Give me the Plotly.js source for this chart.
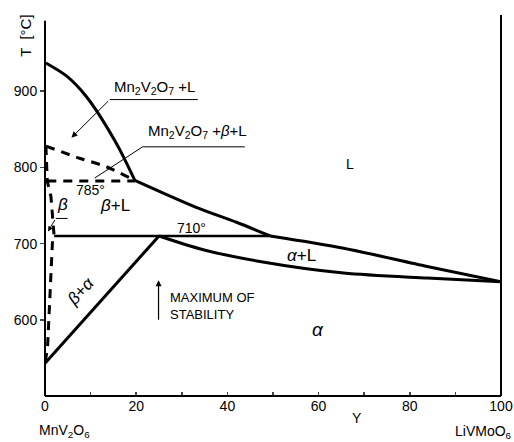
<!DOCTYPE html>
<html><head><meta charset="utf-8">
<script src="https://cdn.plot.ly/plotly-3.0.1.min.js"></script>
<style>body{margin:0;background:#fff}#chart{width:514px;height:442px}</style>
</head><body><div id="chart"></div>
<script>
// Liquidus of Mn2V2O7
const liqMnX = [0.2, 4.7, 9.05, 15.6, 19.7];
const liqMnT = [937, 920, 893, 832, 783];
// Liquidus of beta
const liqBetaX = [19.7, 33, 42, 49.4];
const liqBetaT = [783, 748, 728, 710];
// Liquidus of alpha
const liqAlphaX = [49.4, 65.5, 83.8, 100];
const liqAlphaT = [710, 694, 670, 650];
// Solidus of alpha
const solAlphaX = [25, 34.7, 47.1, 65.5, 83.8, 100];
const solAlphaT = [710, 692, 676.6, 661.4, 654.8, 650];
// Eutectic line 710°
const eutX = [2.0, 49.4];
const eutT = [710, 710];
// beta + alpha boundary
const baX = [0, 25];
const baT = [543, 710];
// Peritectic line 785° (dashed)
const periX = [0.5, 19.7];
const periT = [782, 782];
// Mn2V2O7 + beta + L upper boundary (dashed)
const upX = [0.2, 7.6, 13.4, 19.7];
const upT = [828, 812, 801, 783];
// beta phase boundary (dashed)
const betaX = [0.2, 0.5, 1.3, 1.65, 2.0, 1.65, 0.92, 0.55, 0];
const betaT = [828, 782, 762, 734, 710, 704, 596, 563, 543];

const xTickVals = [0, 10, 20, 30, 40, 50, 60, 70, 80, 90, 100];
const xTickText = ['0', '', '20', '', '40', '', '60', '', '80', '', '100'];
const yTickVals = [600, 700, 800, 900];

const solid = {color: '#000', width: 3};
const dashed = {color: '#000', width: 3, dash: '9px,7px'};
function tr(x, y, line, shape) {
  return {x: x, y: y, mode: 'lines', line: Object.assign({shape: shape || 'linear', smoothing: 0.8}, line), hoverinfo: 'skip'};
}
const data = [
  tr(liqMnX, liqMnT, solid, 'spline'),
  tr(liqBetaX, liqBetaT, solid, 'spline'),
  tr(liqAlphaX, liqAlphaT, solid, 'spline'),
  tr(solAlphaX, solAlphaT, solid, 'spline'),
  tr(eutX, eutT, {color: '#000', width: 2.5}),
  tr(baX, baT, solid),
  tr(periX, periT, dashed),
  tr(upX, upT, dashed, 'spline'),
  tr(betaX, betaT, dashed)
];

const F = 'Liberation Sans, Arial, sans-serif';
function txt(x, y, text, size, extra) {
  return Object.assign({x: x, y: y, xref: 'x', yref: 'y', text: text, showarrow: false,
    font: {family: F, size: size || 13, color: '#000'}}, extra || {});
}
function ptxt(x, y, text, size, extra) {
  return Object.assign({x: x, y: y, xref: 'x', yref: 'paper', xanchor: 'center', yanchor: 'middle', text: text, showarrow: false,
    font: {family: F, size: size || 14, color: '#000'}}, extra || {});
}
const annotations = [
  txt(24.1, 905, 'Mn<sub>2</sub>V<sub>2</sub>O<sub>7</sub> +L', 15),
  txt(33.4, 847, 'Mn<sub>2</sub>V<sub>2</sub>O<sub>7</sub> +<i>β</i>+L', 15),
  txt(10, 771, '785°', 14),
  txt(15.3, 750, '<i>β</i>+L', 17),
  txt(3.9, 751, '<i>β</i>', 17),
  txt(66.9, 804, 'L', 14),
  txt(32.1, 721, '710°', 14),
  txt(8.0, 638, '<i>β</i>+<i>α</i>', 17, {textangle: -47}),
  txt(56.2, 685, '<i>α</i>+L', 17),
  txt(59.9, 587, '<i>α</i>', 19),
  txt(26.9, 618, 'MAXIMUM OF<br>STABILITY', 13, {xanchor: 'left', align: 'left'}),
  // arrows
  {x: 5.8, y: 839, ax: 14.2, ay: 889, xref: 'x', yref: 'y', axref: 'x', ayref: 'y', text: '', showarrow: true,
   arrowhead: 2, arrowsize: 1.2, arrowwidth: 1, arrowcolor: '#000'},
  {x: 0.66, y: 716, ax: 2.37, ay: 733, xref: 'x', yref: 'y', axref: 'x', ayref: 'y', text: '', showarrow: true,
   arrowhead: 2, arrowsize: 1, arrowwidth: 1, arrowcolor: '#000'},
  {x: 24.9, y: 652, ax: 24.9, ay: 598, xref: 'x', yref: 'y', axref: 'x', ayref: 'y', text: '', showarrow: true,
   arrowhead: 2, arrowsize: 1, arrowwidth: 1.2, arrowcolor: '#000'},
  // axis texts
  {x: -0.042, y: 0.945, xref: 'paper', yref: 'paper', xanchor: 'center', yanchor: 'middle', text: 'T  [°C]', textangle: -90, showarrow: false,
   font: {family: F, size: 15, color: '#000'}},
  ptxt(68.5, -0.058, 'Y', 14),
  ptxt(4.3, -0.092, 'MnV<sub>2</sub>O<sub>6</sub>', 14),
  ptxt(96.2, -0.094, 'LiVMoO<sub>6</sub>', 14)
];

const frame = {color: '#000', width: 2};
const shapes = [
  {type: 'line', xref: 'x', yref: 'y', x0: 14.2, y0: 889, x1: 33.5, y1: 889, line: {color: '#000', width: 1}},
  {type: 'line', xref: 'x', yref: 'y', x0: 21.4, y0: 827, x1: 43.8, y1: 827, line: {color: '#000', width: 1}},
  {type: 'line', xref: 'x', yref: 'y', x0: 21.4, y0: 827, x1: 10.9, y1: 786, line: {color: '#000', width: 1}},
  {type: 'line', xref: 'x', yref: 'y', x0: 2.37, y0: 733, x1: 4.95, y1: 733, line: {color: '#000', width: 1}},
  // frame: left, bottom, right (open top)
  {type: 'line', xref: 'paper', yref: 'paper', x0: 0, y0: 0, x1: 1, y1: 0, line: frame, layer: 'above'},
  {type: 'line', xref: 'paper', yref: 'paper', x0: 0, y0: 0, x1: 0, y1: 0.985, line: frame, layer: 'above'},
  {type: 'line', xref: 'paper', yref: 'paper', x0: 1, y0: 0, x1: 1, y1: 1, line: frame, layer: 'above'}
];

const tickFont = {family: F, size: 14, color: '#000'};
const layout = {
  width: 514, height: 442,
  margin: {l: 45, r: 13, t: 15, b: 46},
  paper_bgcolor: '#fff', plot_bgcolor: '#fff',
  showlegend: false,
  xaxis: {range: [0, 100], tickvals: xTickVals, ticktext: xTickText, ticks: 'inside', ticklen: 4, tickwidth: 1.5,
    showline: false, showgrid: false, zeroline: false, tickfont: tickFont, fixedrange: true},
  yaxis: {range: [500, 1000], tickvals: yTickVals, ticks: 'outside', ticklen: 4, tickwidth: 1.5,
    showline: false, showgrid: false, zeroline: false, tickfont: tickFont, fixedrange: true},
  annotations: annotations,
  shapes: shapes
};
Plotly.newPlot('chart', data, layout, {displayModeBar: false, staticPlot: true});
</script>
</body></html>
